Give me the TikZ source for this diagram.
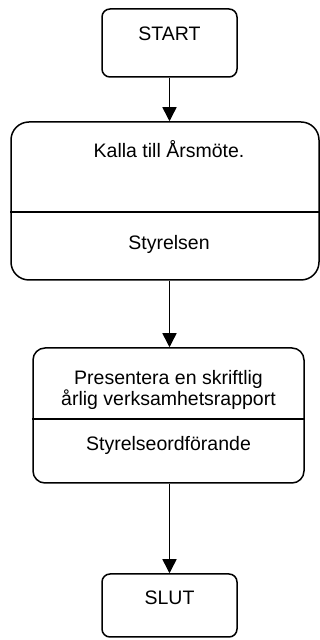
\documentclass[tikz,border=0pt]{standalone}
\usepackage{fontspec}
\setmainfont{Liberation Sans}
\usetikzlibrary{positioning, arrows.meta}

\begin{document}
\begin{tikzpicture}[x=1pt,y=1pt,
    box/.style={draw, line width=1.5pt, rounded corners=#1, inner sep=0pt},
    box/.default=8pt,
    lbl/.style={font=\fontsize{19.5}{21}\selectfont, align=center, inner sep=0pt},
    divider/.style={line width=1.5pt},
    flow/.style={line width=1.5pt, -{Triangle[width=14pt,length=14pt]}}]
        \useasboundingbox (0,0) rectangle (320,640);
        % Boxes
        \node[box, minimum width=135pt, minimum height=68pt] (start) at (169.5,597) {};
        \node[box=18pt, minimum width=308pt, minimum height=158pt] (kalla) at (165,439) {};
        \node[box=12pt, minimum width=271pt, minimum height=135pt] (pres) at (168.5,224.5) {};
        \node[box, minimum width=135pt, minimum height=63pt] (slut) at (169.5,34.5) {};
        % Dividers
        \draw[divider] ([yshift=-91pt]kalla.north west) -- ([yshift=-91pt]kalla.north east);
        \draw[divider] ([yshift=-72pt]pres.north west) -- ([yshift=-72pt]pres.north east);
        % Labels
        \node[lbl, anchor=base] (startlbl) at (169.5,599) {START};
        \node[lbl, anchor=base] (kallalbl) at (169,482) {Kalla till Årsmöte.};
        \node[lbl, anchor=base] (styrlbl) at (169,390) {Styrelsen};
        \node[lbl] (preslbl) at (168.5,250.5) {Presentera en skriftlig\\årlig verksamhetsrapport};
        \node[lbl, anchor=base] (ordflbl) at (168.5,189.5) {Styrelseordförande};
        \node[lbl, anchor=base] (slutlbl) at (169.5,35) {SLUT};
        % Arrows
        \draw[flow] (start) -- (start |- kalla.north);
        \draw[flow] (start |- kalla.south) -- (start |- pres.north);
        \draw[flow] (start |- pres.south) -- (start |- slut.north);
    \end{tikzpicture}
\end{document}
